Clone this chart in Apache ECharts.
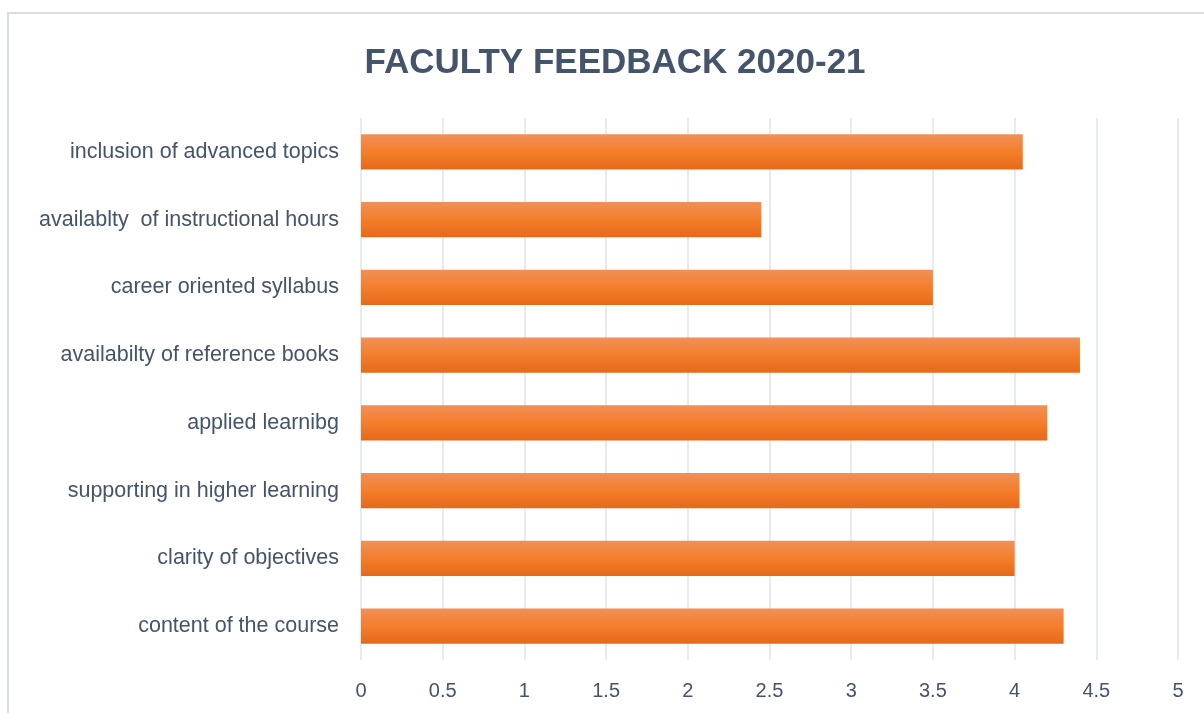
<!DOCTYPE html>
<html>
<head>
<meta charset="utf-8">
<script src="https://cdn.jsdelivr.net/npm/echarts@6/dist/echarts.min.js"></script>
<style>
html,body{margin:0;padding:0;background:#fff;}
#c{width:1204px;height:713px;}
</style>
</head>
<body>
<div id="c"></div>
<script>
const categories = [
  "content of the course",
  "clarity of objectives",
  "supporting in higher learning",
  "applied learnibg",
  "availabilty of reference books",
  "career oriented syllabus",
  "availablty  of instructional hours",
  "inclusion of advanced topics"
];
const values = [4.3, 4.0, 4.03, 4.2, 4.4, 3.5, 2.45, 4.05];
const xTicks = [0, 0.5, 1, 1.5, 2, 2.5, 3, 3.5, 4, 4.5, 5];
const titleText = "FACULTY FEEDBACK 2020-21";

const chart = echarts.init(document.getElementById('c'));
const txt = '#44546a';
chart.setOption({
  animation: false,
  backgroundColor: '#fff',
  graphic: [{
    type: 'polyline',
    shape: { points: [[8, 720], [8, 13], [1210, 13]] },
    style: { stroke: '#d9dee5', lineWidth: 2, fill: null },
    silent: true
  }],
  title: {
    text: titleText,
    left: 610, top: 41, textAlign: 'center',
    textStyle: { fontFamily: 'Liberation Sans', fontWeight: 'bold', fontSize: 35, color: txt }
  },
  grid: { left: 361, right: 26, top: 118, bottom: 53, containLabel: false },
  xAxis: {
    type: 'value', min: 0, max: 5, interval: 0.5,
    axisLine: { show: false }, axisTick: { show: false },
    splitLine: { lineStyle: { color: '#dfe3ea', width: 1.5 } },
    axisLabel: {
      margin: 21, color: txt, fontFamily: 'Liberation Sans', fontSize: 20,
      formatter: v => { const t = xTicks.find(x => Math.abs(x - v) < 1e-9); return t === undefined ? '' : String(t); }
    }
  },
  yAxis: {
    type: 'category', data: categories,
    axisLine: { show: false }, axisTick: { show: false },
    axisLabel: { margin: 22, color: txt, fontFamily: 'Liberation Sans', fontSize: 21.5 }
  },
  series: [{
    type: 'bar', data: values, barCategoryGap: '48%',
    itemStyle: {
      color: new echarts.graphic.LinearGradient(0, 0, 0, 1, [
        { offset: 0, color: '#f09058' },
        { offset: 0.5, color: '#f47e2a' },
        { offset: 1, color: '#e5691a' }
      ])
    }
  }]
});
</script>
</body>
</html>
